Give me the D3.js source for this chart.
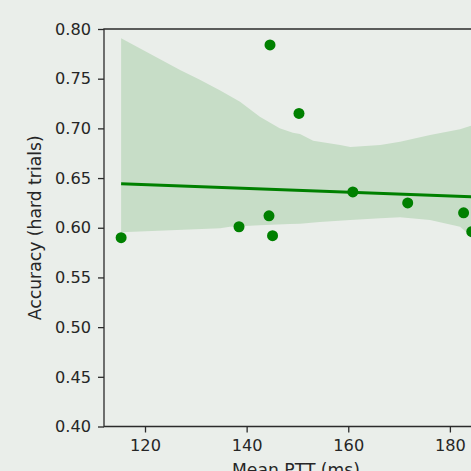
<!DOCTYPE html>
<html lang="en">
<head>
    <meta charset="UTF-8">
    <title>Accuracy vs Mean PTT</title>
    <script src="https://d3js.org/d3.v7.min.js"></script>
    <style>
        html, body {
            margin: 0;
            padding: 0;
            background: #eaeeea;
            overflow: hidden;
        }
        #chart text {
            font-family: "DejaVu Sans", sans-serif;
            fill: #262626;
        }
    </style>
</head>
<body>
    <div id="chart"></div>

    <script>
        // scatter points
        const pttMs = [115.3, 138.5, 144.4, 144.6, 145.1, 150.3, 160.9, 171.7, 182.7, 184.3];
        const accuracy = [0.590, 0.601, 0.612, 0.784, 0.592, 0.715, 0.636, 0.625, 0.615, 0.596];

        // regression line ends
        const fitX = [115.3, 184.3];
        const fitY = [0.6443, 0.6312];

        // confidence band, upper and lower edges
        const bandHiX = [115.3, 126.9, 130.8, 134.8, 138.7, 142.6, 146.5, 149.1, 150.5, 153.1, 158.4, 160.4, 166.3, 170.2, 176.1, 182.0, 184.3];
        const bandHi = [0.7906, 0.7588, 0.749, 0.738, 0.7268, 0.7117, 0.7001, 0.6956, 0.6943, 0.6876, 0.6833, 0.6812, 0.6832, 0.6866, 0.6933, 0.699, 0.703];
        const bandLoX = [115.3, 134.8, 136.7, 142.6, 148.5, 150.5, 154.4, 160.4, 166.3, 170.2, 176.1, 182.0, 184.3];
        const bandLo = [0.5955, 0.5994, 0.6011, 0.6025, 0.6038, 0.604, 0.6058, 0.6078, 0.6095, 0.6105, 0.6078, 0.6011, 0.591];

        const xTicks = [120, 140, 160, 180];
        const yTicks = [0.40, 0.45, 0.50, 0.55, 0.60, 0.65, 0.70, 0.75, 0.80];

        const W = 471, H = 471;
        const plotLeft = 104, plotTop = 29, plotRight = 488, plotBottom = 426.5;
        const green = "#008000";

        const svg = d3.select("#chart").append("svg")
            .attr("width", W)
            .attr("height", H);

        const x = d3.scaleLinear().domain([111.93, 187.5]).range([plotLeft, plotRight]);
        const y = d3.scaleLinear().domain([0.40, 0.80]).range([plotBottom, plotTop]);
        const line = d3.line().x(d => x(d[0])).y(d => y(d[1]));

        // band polygon: upper edge left to right, lower edge back
        const upper = bandHiX.map((v, i) => [v, bandHi[i]]);
        const lower = bandLoX.map((v, i) => [v, bandLo[i]]).reverse();
        svg.append("path")
            .datum(upper.concat(lower))
            .attr("fill", "#c7ddc7")
            .attr("d", d => line(d) + "Z");

        // regression line
        svg.append("path")
            .datum(fitX.map((v, i) => [v, fitY[i]]))
            .attr("fill", "none")
            .attr("stroke", green)
            .attr("stroke-width", 3)
            .attr("d", line);

        // points
        svg.append("g")
            .selectAll("circle")
            .data(pttMs.map((v, i) => [v, accuracy[i]]))
            .enter().append("circle")
            .attr("cx", d => x(d[0]))
            .attr("cy", d => y(d[1]))
            .attr("r", 5.5)
            .attr("fill", green);

        // axes
        const xAxis = svg.append("g")
            .attr("transform", `translate(0,${plotBottom})`)
            .call(d3.axisBottom(x).tickValues(xTicks).tickSize(6).tickPadding(7).tickFormat(d3.format("d")));
        const yAxis = svg.append("g")
            .attr("transform", `translate(${plotLeft},0)`)
            .call(d3.axisLeft(y).tickValues(yTicks).tickSize(6).tickPadding(7).tickFormat(d3.format(".2f")));

        [xAxis, yAxis].forEach(a => {
            a.select(".domain").remove();
            a.selectAll("line").attr("stroke", "#2b2b2b").attr("stroke-width", 1.3);
            a.selectAll("text").style("font-size", "16.2px");
        });

        // spines (left, bottom, top)
        svg.append("path")
            .attr("d", `M${plotRight},${plotTop}H${plotLeft}V${plotBottom}H${plotRight}`)
            .attr("fill", "none")
            .attr("stroke", "#2b2b2b")
            .attr("stroke-width", 1.3);

        // labels
        svg.append("text")
            .attr("transform", `translate(41,${(plotTop + plotBottom) / 2}) rotate(-90)`)
            .attr("text-anchor", "middle")
            .style("font-size", "17.2px")
            .text("Accuracy (hard trials)");

        svg.append("text")
            .attr("x", (plotLeft + plotRight) / 2)
            .attr("y", 476)
            .attr("text-anchor", "middle")
            .style("font-size", "17.2px")
            .text("Mean PTT (ms)");
    </script>
</body>
</html>
